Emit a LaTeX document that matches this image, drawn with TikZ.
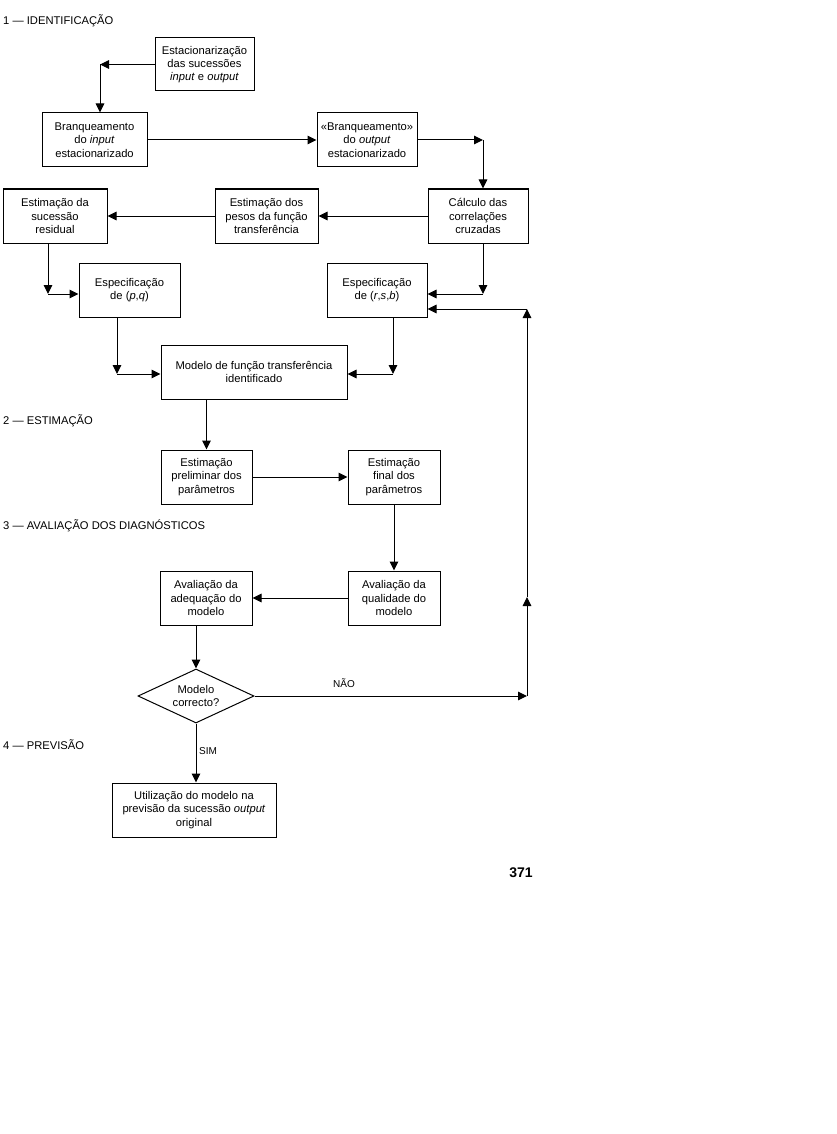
\documentclass[tikz,border=0pt]{standalone}
\usepackage{fontspec}
\setmainfont{Liberation Sans}
\usetikzlibrary{arrows.meta,shapes.geometric}
\begin{document}
\begin{tikzpicture}[x=1pt,y=-1pt,
 box/.style={draw, line width=1pt, align=center, inner sep=0pt, font=\fontsize{11.2}{13.3}\selectfont},
 arr/.style={line width=1pt, -{Triangle[length=9pt,width=8.5pt]}},
 hdr/.style={anchor=west, inner sep=0pt, font=\fontsize{11.2}{13.3}\selectfont},
 lbl/.style={anchor=west, inner sep=0pt, font=\fontsize{10}{12}\selectfont}]
\useasboundingbox[fill=white] (0,0) rectangle (837,1134);

% headers
\node[hdr] (h1) at (3,20.5) {1 — IDENTIFICAÇÃO};
\node[hdr] (h2) at (3,421) {2 — ESTIMAÇÃO};
\node[hdr] (h3) at (3,525.5) {3 — AVALIAÇÃO DOS DIAGNÓSTICOS};
\node[hdr] (h4) at (3,745) {4 — PREVISÃO};
\node[inner sep=0pt, font=\fontsize{14}{16}\selectfont\bfseries] (pg) at (521,873) {371};

% boxes
\node[box, minimum width=99, minimum height=53] (est) at (204.5,64.5) {Estacionarização\\das sucessões\\\textit{input} e \textit{output}};
\node[box, minimum width=105, minimum height=54] (bri) at (94.5,140) {Branqueamento\\do \textit{input}\\estacionarizado};
\node[box, minimum width=100, minimum height=54] (bro) at (367,140) {«Branqueamento»\\do \textit{output}\\estacionarizado};
\node[box, minimum width=100, minimum height=54] (calc) at (478,216) {Cálculo das\\correlações\\cruzadas};
\node[box, minimum width=103, minimum height=54] (pesos) at (266.5,216) {Estimação dos\\pesos da função\\transferência};
\node[box, minimum width=104, minimum height=54] (resid) at (55,216) {Estimação da\\sucessão\\residual};
\node[box, minimum width=101, minimum height=54] (pq) at (129.5,290) {Especificação\\de (\textit{p},\textit{q})};
\node[box, minimum width=100, minimum height=54] (rsb) at (377,290) {Especificação\\de (\textit{r},\textit{s},\textit{b})};
\node[box, minimum width=186, minimum height=54] (mod) at (254,372) {Modelo de função transferência\\identificado};
\node[box, minimum width=91, minimum height=54] (prel) at (206.5,477) {Estimação\\preliminar dos\\parâmetros};
\node[box, minimum width=92, minimum height=54] (fin) at (394,477) {Estimação\\final dos\\parâmetros};
\node[box, minimum width=92, minimum height=54] (adeq) at (206,598) {Avaliação da\\adequação do\\modelo};
\node[box, minimum width=92, minimum height=54] (qual) at (394,598) {Avaliação da\\qualidade do\\modelo};
\node[box, shape=diamond, aspect=2.15, minimum width=116, minimum height=54] (dia) at (196,696) {Modelo\\correcto?};
\node[box, minimum width=164, minimum height=54] (util) at (194,810) {Utilização do modelo na\\previsão da sucessão \textit{output}\\original};

% connectors
\coordinate (c1) at (100,64.5);
\draw[arr] (est.west) -- (c1);
\draw[arr] (c1) -- (c1 |- bri.north);
\draw[arr] (bri.east) -- (bro.west);
\coordinate (c2) at (483,140);
\draw[arr] (bro.east) -- (c2);
\draw[arr] (c2) -- (c2 |- calc.north);
\draw[arr] (calc.west) -- (pesos.east);
\draw[arr] (pesos.west) -- (resid.east);
\coordinate (c3) at (48,294);
\draw[arr] (c3 |- resid.south) -- (c3);
\draw[arr] (c3) -- (c3 -| pq.west);
\coordinate (c4) at (483,294);
\draw[arr] (c4 |- calc.south) -- (c4);
\draw[arr] (c4) -- (c4 -| rsb.east);
\coordinate (c5) at (117,374);
\draw[arr] (c5 |- pq.south) -- (c5);
\draw[arr] (c5) -- (c5 -| mod.west);
\coordinate (c6) at (393,374);
\draw[arr] (c6 |- rsb.south) -- (c6);
\draw[arr] (c6) -- (c6 -| mod.east);
\draw[arr] (prel.north |- mod.south) -- (prel.north);
\draw[arr] (prel.east) -- (fin.west);
\draw[arr] (fin.south) -- (qual.north);
\draw[arr] (qual.west) -- (adeq.east);
\draw[arr] (dia.north |- adeq.south) -- (dia.north);
\coordinate (c7) at (527,696);
\coordinate (c8) at (527,597);
\coordinate (c9) at (527,309);
\draw[arr] (dia.east) -- (c7);
\draw[arr] (c7) -- (c8);
\draw[arr] (c8) -- (c9);
\draw[arr] (c9) -- (c9 -| rsb.east);
\draw[arr] (dia.south) -- (dia.south |- util.north);

% labels
\node[lbl] (nao) at (333,683) {NÃO};
\node[lbl] (sim) at (199,751) {SIM};
\end{tikzpicture}
\end{document}
